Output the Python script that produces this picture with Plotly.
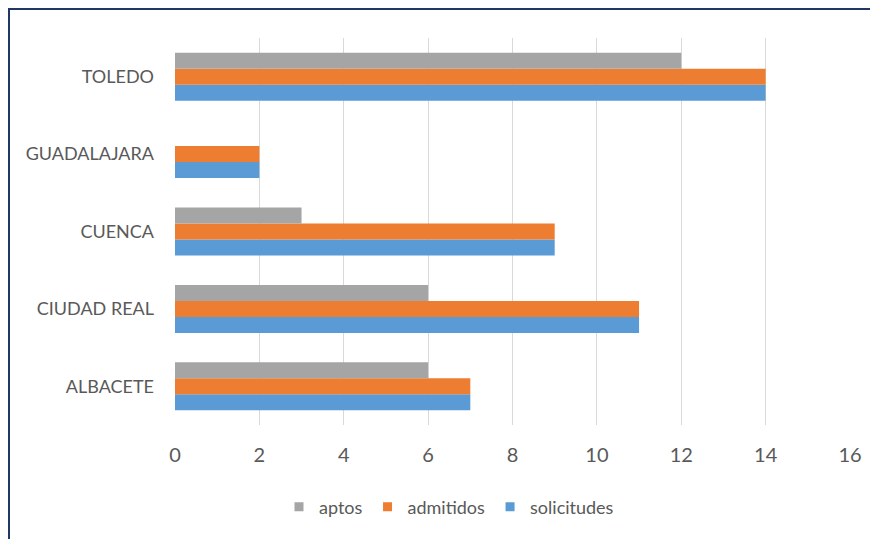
import plotly.graph_objects as go

categories = ["ALBACETE", "CIUDAD REAL", "CUENCA", "GUADALAJARA", "TOLEDO"]
solicitudes = [7, 11, 9, 2, 14]
admitidos = [7, 11, 9, 2, 14]
aptos = [6, 6, 3, 0, 12]
x_ticks = [0, 2, 4, 6, 8, 10, 12, 14, 16]

colors = {"solicitudes": "#5B9BD5", "admitidos": "#ED7D31", "aptos": "#A5A5A5"}

fig = go.Figure()
for name, vals in [("solicitudes", solicitudes), ("admitidos", admitidos), ("aptos", aptos)]:
    fig.add_trace(go.Bar(y=categories, x=vals, name=name, orientation="h",
                         marker=dict(color=colors[name], line=dict(width=0)),
                         showlegend=False))
# legend entries with small square symbols
for name in ["solicitudes", "admitidos", "aptos"]:
    fig.add_trace(go.Scatter(x=[None], y=[None], mode="markers", name=name,
                             marker=dict(symbol="square", size=9, color=colors[name])))

# page has an 8px body margin; figure coordinates are screen - 8
L, R, T, B = 167, 842, 30, 417
W, H = 870, 531

fig.update_layout(
    width=W, height=H,
    margin=dict(l=L, r=W - R, t=T, b=H - B, autoexpand=False),
    barmode="group", bargap=0.38, bargroupgap=0,
    plot_bgcolor="white", paper_bgcolor="white",
    font=dict(family="Lato, Open Sans, sans-serif", color="#595959"),
    xaxis=dict(range=[0, 16], tickvals=x_ticks, showgrid=True, gridcolor="#D9D9D9",
               gridwidth=1, zeroline=False, showline=False, ticks="",
               tickfont=dict(size=20), ticklabelstandoff=16),
    yaxis=dict(showgrid=False, zeroline=False, showline=False, ticks="",
               tickfont=dict(size=18), ticklabelstandoff=20),
    legend=dict(orientation="h", traceorder="reversed", x=(441 - L) / (R - L), xanchor="center",
                y=(B - 499) / (B - T), yanchor="middle", font=dict(size=18),
                itemwidth=30),
    showlegend=True,
)

fig.add_shape(type="rect", xref="paper", yref="paper",
              x0=(1 - L) / (R - L), x1=(900 - L) / (R - L),
              y0=(B - 1) / (B - T), y1=(B - 560) / (B - T),
              line=dict(color="#1F3864", width=2), fillcolor="rgba(0,0,0,0)", layer="above")

fig.write_html("out.html")
